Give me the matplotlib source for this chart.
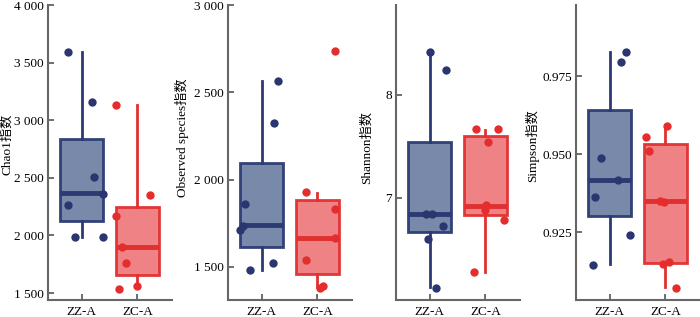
import matplotlib
matplotlib.use('Agg')
import matplotlib.pyplot as plt
import numpy as np

groups = ['ZZ-A', 'ZC-A']

# raw points per index, per group
chao1 = [
    [3590, 3159, 2509, 2263, 2364, 1988, 1991],
    [3133, 2347, 2171, 1902, 1757, 1538, 1564],
]
observed = [
    [2565, 2323, 1860, 1712, 1735, 1523, 1481],
    [2737, 1927, 1833, 1663, 1539, 1381, 1388],
]
shannon = [
    [8.413, 8.235, 6.845, 6.845, 6.723, 6.606, 6.123],
    [7.668, 7.668, 7.539, 6.932, 6.887, 6.784, 6.281],
]
simpson = [
    [0.9827, 0.9795, 0.9488, 0.9416, 0.9362, 0.9240, 0.9143],
    [0.9591, 0.9555, 0.9510, 0.9348, 0.9345, 0.9154, 0.9148, 0.9069],
]

# box stats: whislo, q1, med, q3, whishi
chao1_box = [[1991, 2127, 2367, 2835, 3590], [1564, 1656, 1899, 2251, 3133]]
observed_box = [[1481, 1615, 1737, 2092, 2565], [1385, 1458, 1663, 1881, 1923]]
shannon_box = [[6.139, 6.668, 6.845, 7.539, 8.413], [6.281, 6.835, 6.926, 7.603, 7.66]]
simpson_box = [[0.9146, 0.9300, 0.9416, 0.9642, 0.9826], [0.9074, 0.9151, 0.9348, 0.9533, 0.9591]]

# horizontal jitter of the dots as seen in the picture
chao1_jit = [[-0.235, 0.19, 0.22, -0.235, 0.39, -0.11, 0.39],
             [-0.39, 0.22, -0.39, -0.28, -0.2, -0.32, 0.0]]
observed_jit = [[0.29, 0.22, -0.3, -0.38, -0.33, 0.2, -0.21],
                [0.32, -0.21, 0.31, 0.32, -0.21, 0.05, 0.1]]
shannon_jit = [[0.01, 0.29, -0.07, 0.05, 0.25, -0.02, 0.11],
               [-0.17, 0.23, 0.05, 0.02, 0.0, 0.33, -0.2]]
simpson_jit = [[0.3, 0.2, -0.15, 0.15, -0.26, 0.37, -0.3],
               [0.03, -0.34, -0.3, -0.09, -0.02, 0.07, -0.04, 0.19]]

labels = ['Chao1指数', 'Observed species指数', 'Shannon指数', 'Simpson指数']
yticks = [[1500, 2000, 2500, 3000, 3500, 4000],
          [1500, 2000, 2500, 3000],
          [7, 8],
          [0.925, 0.950, 0.975]]
ytlabels = [['1 500', '2 000', '2 500', '3 000', '3 500', '4 000'],
            ['1 500', '2 000', '2 500', '3 000'],
            ['7', '8'],
            ['0.925', '0.950', '0.975']]
ylims = [(1440, 4000), (1310, 3000), (6.01, 8.87), (0.9032, 0.9978)]

fonts = ['Liberation Serif', 'Noto Sans CJK SC']
plt.rcParams['font.family'] = fonts

edge_c = ['#2b3a72', '#e0302f']
fill_c = ['#7183a5', '#ee7b7d']
dot_c = ['#2b3670', '#e52d2d']

fig = plt.figure(figsize=(7, 3.17), dpi=100)
lefts = [48, 228, 396, 576]
label_x = [7, 182, 367, 532]
label_y = [144, 138, 147, 146]

datas = [chao1, observed, shannon, simpson]
boxes = [chao1_box, observed_box, shannon_box, simpson_box]
jits = [chao1_jit, observed_jit, shannon_jit, simpson_jit]

for i in range(4):
    ax = fig.add_axes([lefts[i] / 700, 17 / 317, 124 / 700, 295 / 317])
    stats = []
    for b in boxes[i]:
        stats.append(dict(whislo=b[0], q1=b[1], med=b[2], q3=b[3], whishi=b[4], fliers=[]))
    for g in range(2):
        ax.bxp([stats[g]], positions=[g], widths=0.76, patch_artist=True,
               showcaps=False, showfliers=False,
               boxprops=dict(facecolor=fill_c[g], edgecolor=edge_c[g], linewidth=2, alpha=0.95),
               whiskerprops=dict(color=edge_c[g], linewidth=2),
               medianprops=dict(color=edge_c[g], linewidth=3.5))
        x = g + np.array(jits[i][g])
        ax.scatter(x, datas[i][g], s=36, color=dot_c[g], zorder=5, linewidths=0)
    ax.set_xlim(-0.6, 1.62)
    ax.set_ylim(*ylims[i])
    ax.set_xticks([0, 1])
    ax.set_xticklabels(groups, fontsize=9.5)
    ax.set_yticks(yticks[i])
    ax.set_yticklabels(ytlabels[i], fontsize=9.5)
    ax.tick_params(direction='in', length=4, width=1.2, color='#555555', pad=3)
    ax.tick_params(axis='x', pad=4)
    for s in ['top', 'right']:
        ax.spines[s].set_visible(False)
    for s in ['left', 'bottom']:
        ax.spines[s].set_color('#666666')
        ax.spines[s].set_linewidth(1.5)
    fig.text(label_x[i] / 700, 1 - label_y[i] / 317, labels[i], rotation=90,
             ha='center', va='center', fontsize=9.5, family=fonts)

fig.savefig('out.png', dpi=100, facecolor='white')
